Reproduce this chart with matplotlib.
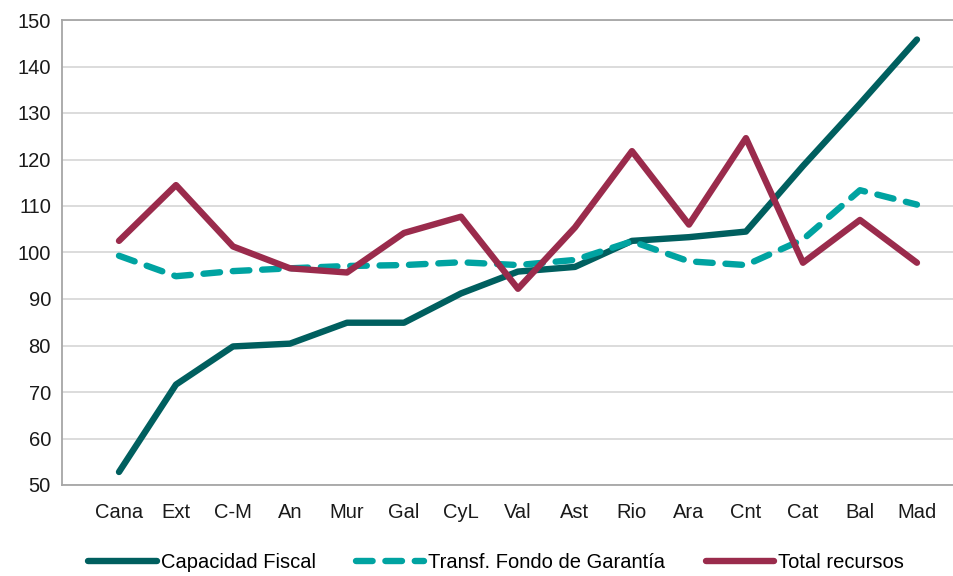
import matplotlib
matplotlib.use("Agg")
import matplotlib.pyplot as plt

categories = ["Cana", "Ext", "C-M", "An", "Mur", "Gal", "CyL", "Val", "Ast",
              "Rio", "Ara", "Cnt", "Cat", "Bal", "Mad"]
capacidad_fiscal = [52.8, 71.6, 79.8, 80.4, 84.9, 84.9, 91.2, 95.9, 96.9,
                    102.5, 103.3, 104.5, 118.6, 132.0, 145.8]
transf_fondo = [99.3, 94.9, 96.0, 96.6, 97.1, 97.3, 97.9, 97.3, 98.4,
                102.4, 98.1, 97.3, 102.8, 113.4, 110.3]
total_recursos = [102.5, 114.5, 101.3, 96.6, 95.7, 104.2, 107.7, 92.2, 105.4,
                  121.8, 106.0, 124.6, 97.8, 107.0, 97.8]
yticks = [50, 60, 70, 80, 90, 100, 110, 120, 130, 140, 150]

plt.rcParams['font.family'] = ['Liberation Sans', 'DejaVu Sans']

fig = plt.figure(figsize=(9.54, 5.76), dpi=100)
ax = fig.add_axes([62/954, 1-485/576, 1.0 - 62/954, (485-20)/576])

x = list(range(len(categories)))
lw = 4.6
l1, = ax.plot(x, capacidad_fiscal, color="#005F5F", lw=lw, solid_capstyle="round",
              solid_joinstyle="round", label="Capacidad Fiscal", zorder=3)
l2, = ax.plot(x, transf_fondo, color="#00A3A1", lw=lw, dashes=(2.6, 2.0),
              dash_capstyle="round", label="Transf. Fondo de Garantía", zorder=4)
l3, = ax.plot(x, total_recursos, color="#9A2B4C", lw=lw, solid_capstyle="round",
              solid_joinstyle="round", label="Total recursos", zorder=5)

ax.set_xlim(-1, 14.65)
ax.set_ylim(50, 150)
ax.set_yticks(yticks)
ax.set_xticks(x)
ax.set_xticklabels(categories)
ax.tick_params(axis="both", length=0, labelsize=14.5, colors="#1a1a1a")
ax.tick_params(axis="x", pad=13)
ax.tick_params(axis="y", pad=8)
ax.grid(axis="y", color="#D9D9D9", lw=1.3)
ax.set_axisbelow(True)
for side in ["left", "bottom", "top"]:
    ax.spines[side].set_color("#A6A6A6")
    ax.spines[side].set_linewidth(1.3)
ax.spines["right"].set_visible(False)

fig.legend(handles=[l1, l2, l3], loc="center", bbox_to_anchor=(0.52, 1-563/576),
           ncol=3, frameon=False, fontsize=14.5, handlelength=3.4,
           handletextpad=0.2, columnspacing=2.0)

fig.savefig("out.png", dpi=100)
